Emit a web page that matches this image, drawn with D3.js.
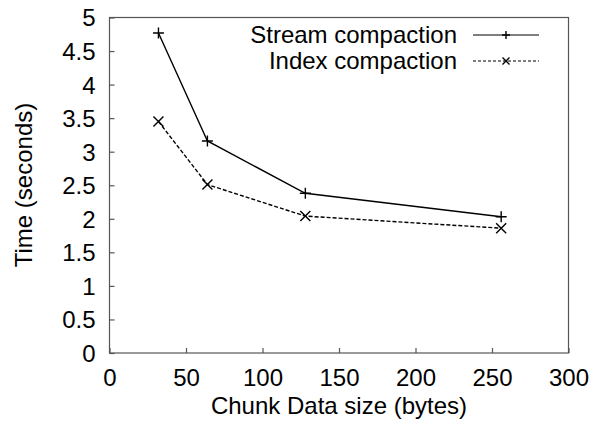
<!DOCTYPE html>
<html>
<head>
<meta charset="utf-8">
<script src="https://cdn.jsdelivr.net/npm/d3@7"></script>
<style>
  body { margin: 0; background: #fff; }
  text { font-family: "Liberation Sans", Arial, Helvetica, sans-serif; fill: #000; }
</style>
</head>
<body>
<svg id="chart" width="594" height="428"></svg>
<script>
// chunk sizes (bytes)
const chunkSizes = [32, 64, 128, 256];
const streamTimes = [4.77, 3.16, 2.38, 2.03];
const indexTimes = [3.45, 2.51, 2.04, 1.86];
const seriesNames = ['Stream compaction', 'Index compaction'];
const xTicks = [0, 50, 100, 150, 200, 250, 300];
const yTicks = [0, 0.5, 1, 1.5, 2, 2.5, 3, 3.5, 4, 4.5, 5];

const svg = d3.select('#chart');
const plotL = 109.5, plotR = 568.5, plotT = 17.5, plotB = 353;
const fontSize = 24;

const x = d3.scaleLinear().domain([0, 300]).range([plotL, plotR]);
const y = d3.scaleLinear().domain([0, 5]).range([plotB, plotT]);

// frame
svg.append('rect')
  .attr('x', plotL).attr('y', plotT)
  .attr('width', plotR - plotL).attr('height', plotB - plotT)
  .attr('fill', 'none').attr('stroke', '#555').attr('stroke-width', 1.2);

// axes with inward ticks
const xAxis = svg.append('g').attr('transform', `translate(0,${plotB})`)
  .call(d3.axisBottom(x).tickValues(xTicks).tickSize(-5).tickPadding(16).tickFormat(d3.format('d')));
const yAxis = svg.append('g').attr('transform', `translate(${plotL},0)`)
  .call(d3.axisLeft(y).tickValues(yTicks).tickSize(-5).tickPadding(14).tickFormat(d => String(d)));

[xAxis, yAxis].forEach(a => {
  a.select('.domain').remove();
  a.selectAll('.tick line').attr('stroke', '#555').attr('stroke-width', 1.2);
  a.selectAll('.tick text').attr('font-size', fontSize).attr('font-family', '"Liberation Sans", Arial, sans-serif');
});
yAxis.selectAll('.tick text').attr('dy', '0.35em');

// axis titles
svg.append('text')
  .attr('x', (plotL + plotR) / 2).attr('y', 414)
  .attr('text-anchor', 'middle').attr('font-size', fontSize)
  .text('Chunk Data size (bytes)');
svg.append('text')
  .attr('transform', `translate(32,185) rotate(-90)`)
  .attr('text-anchor', 'middle').attr('font-size', fontSize)
  .text('Time (seconds)');

const series = [
  { name: seriesNames[0], values: streamTimes, dash: null, marker: 'plus' },
  { name: seriesNames[1], values: indexTimes, dash: '4,2', marker: 'cross' }
];

const line = d3.line().x(d => x(d[0])).y(d => y(d[1]));

function drawMarker(g, type, cx, cy, s) {
  const p = type === 'plus'
    ? `M${cx - s},${cy}L${cx + s},${cy}M${cx},${cy - s}L${cx},${cy + s}`
    : `M${cx - s},${cy - s}L${cx + s},${cy + s}M${cx - s},${cy + s}L${cx + s},${cy - s}`;
  g.append('path').attr('d', p).attr('stroke', '#000').attr('stroke-width', 1.4).attr('fill', 'none');
}

series.forEach((s, i) => {
  const pts = chunkSizes.map((c, j) => [c, s.values[j]]);
  const g = svg.append('g');
  g.append('path')
    .attr('d', line(pts))
    .attr('fill', 'none').attr('stroke', '#000').attr('stroke-width', 1.4)
    .attr('stroke-dasharray', s.dash);
  pts.forEach(p => drawMarker(g, s.marker, x(p[0]), y(p[1]), s.marker === 'plus' ? 5.5 : 5));

  // legend
  const ly = 35 + i * 26;
  svg.append('text')
    .attr('x', 457).attr('y', ly).attr('dy', '0.35em')
    .attr('text-anchor', 'end').attr('font-size', fontSize)
    .text(s.name);
  svg.append('line')
    .attr('x1', 473).attr('x2', 539).attr('y1', ly).attr('y2', ly)
    .attr('stroke', '#000').attr('stroke-width', 1.2)
    .attr('stroke-dasharray', s.dash === null ? null : '3,2');
  drawMarker(svg, s.marker, 506, ly, s.marker === 'plus' ? 4 : 3.5);
});
</script>
</body>
</html>
